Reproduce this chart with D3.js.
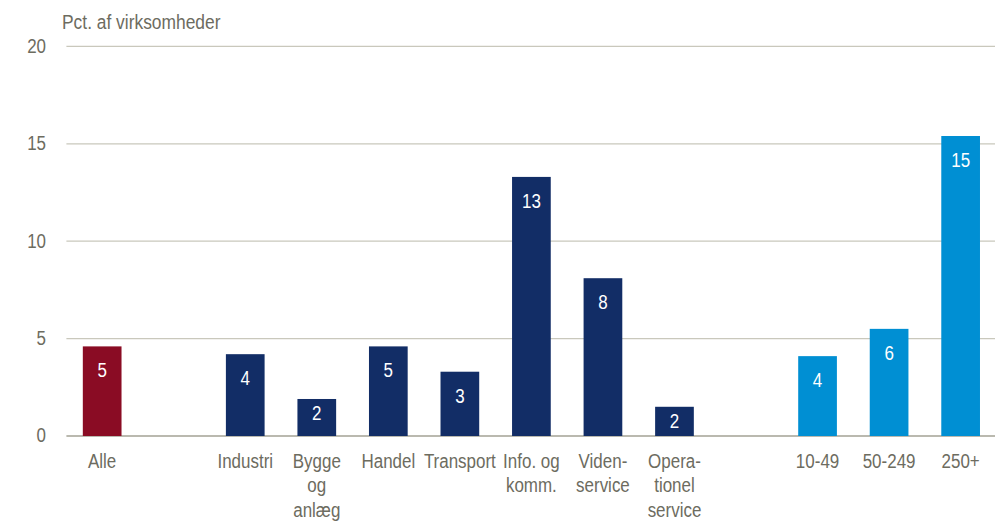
<!DOCTYPE html>
<html>
<head>
<meta charset="utf-8">
<script src="https://cdn.jsdelivr.net/npm/d3@7"></script>
<style>
  html, body { margin: 0; padding: 0; background: #fff; }
  svg { display: block; }
  text { font-family: "Liberation Sans Narrow", "Liberation Sans", Arial, sans-serif; }
</style>
</head>
<body>
<svg id="chart" width="1000" height="522"></svg>
<script>
// Category slots along the x axis; empty strings are spacer slots between groups
const categories = ["Alle", "", "Industri", "Bygge\nog\nanlæg", "Handel", "Transport",
  "Info. og\nkomm.", "Viden-\nservice", "Opera-\ntionel\nservice", "", "10-49", "50-249", "250+"];
const values = [4.6, null, 4.2, 1.9, 4.6, 3.3, 13.3, 8.1, 1.5, null, 4.1, 5.5, 15.4];
const groups = ["alle", null, "branche", "branche", "branche", "branche", "branche", "branche", "branche", null, "str", "str", "str"];
const yTicks = [0, 5, 10, 15, 20];
const yTitle = "Pct. af virksomheder";

const groupColor = { alle: "#8a0c24", branche: "#122d66", str: "#008fd3" };
const textGray = "#6d6c5f";
// horizontal squeeze giving a condensed look to the regular sans face
const squeeze = 0.87;

const svg = d3.select("#chart");
const rows = categories.map((c, i) => ({ id: i, label: c, value: values[i], group: groups[i] }));

const x = d3.scaleBand()
  .domain(rows.map(d => d.id))
  .range([66.4, 996.4])
  .paddingInner(0.459)
  .paddingOuter(0.2295);

const y = d3.scaleLinear().domain([0, 20]).range([436, 46.4]);

// horizontal gridlines
svg.append("g")
  .selectAll("line")
  .data(yTicks)
  .join("line")
  .attr("x1", 66.4).attr("x2", 995)
  .attr("y1", d => y(d)).attr("y2", d => y(d))
  .attr("stroke", d => d === 0 ? "#a3a294" : "#c9c8bc")
  .attr("stroke-width", d => d === 0 ? 1.3 : 1.2);

// y axis tick labels
const yAxis = d3.axisLeft(y).tickValues(yTicks).tickSize(0).tickPadding(0);
const gy = svg.append("g").attr("transform", "translate(46,0)").call(yAxis);
gy.select(".domain").remove();
gy.attr("font-family", null).attr("font-size", null);
gy.selectAll("text")
  .attr("font-size", 19.5)
  .attr("fill", textGray)
  .attr("dy", "0.3em")
  .attr("transform", `scale(${squeeze},1)`);

// axis title
svg.append("text")
  .attr("transform", `translate(62,29) scale(${squeeze},1)`)
  .attr("font-size", 20)
  .attr("fill", textGray)
  .text(yTitle);

const bars = rows.filter(d => d.value != null);
const cx = d => x(d.id) + x.bandwidth() / 2;

// bars
svg.append("g")
  .selectAll("rect")
  .data(bars)
  .join("rect")
  .attr("x", d => x(d.id))
  .attr("width", x.bandwidth())
  .attr("y", d => y(d.value))
  .attr("height", d => y(0) - y(d.value))
  .attr("fill", d => groupColor[d.group]);

// value labels inside the bars; short bars get the label closer to the top
const labelY = d => {
  const top = y(d.value), h = y(0) - top;
  return top + (h < 40 ? 21 : 31);
};
svg.append("g")
  .selectAll("text")
  .data(bars)
  .join("text")
  .attr("transform", d => `translate(${cx(d)},${labelY(d)}) scale(${squeeze},1)`)
  .attr("text-anchor", "middle")
  .attr("font-size", 19.5)
  .attr("fill", "#ffffff")
  .text(d => Math.round(d.value));

// category labels (multi-line)
const cat = svg.append("g")
  .selectAll("text")
  .data(bars)
  .join("text")
  .attr("transform", d => `translate(${cx(d)},468) scale(${squeeze},1)`)
  .attr("text-anchor", "middle")
  .attr("font-size", 19.5)
  .attr("fill", textGray);

cat.selectAll("tspan")
  .data(d => d.label.split("\n"))
  .join("tspan")
  .attr("x", 0)
  .attr("dy", (d, i) => i === 0 ? 0 : 24.3)
  .text(d => d);
</script>
</body>
</html>
